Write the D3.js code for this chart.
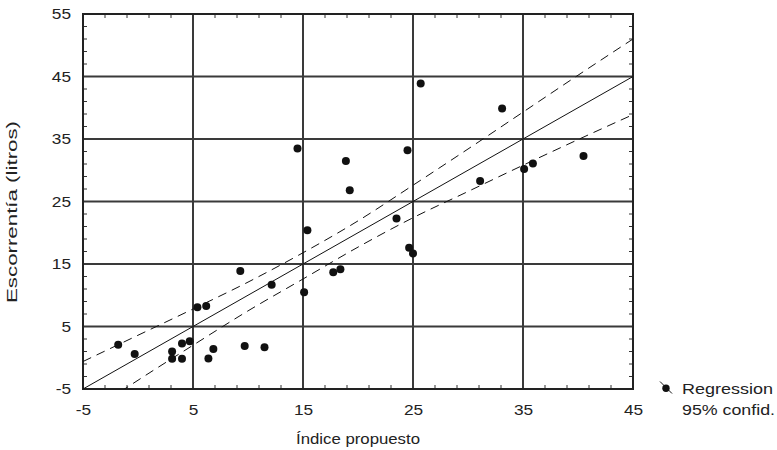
<!DOCTYPE html>
<html><head><meta charset="utf-8">
<script src="https://cdn.jsdelivr.net/npm/d3@7"></script>
<style>body{margin:0;background:#fff;} svg{display:block;font-family:"Liberation Sans",Arial,sans-serif;}</style>
</head><body>
<script>
// Observed points
const xVals = [-1.8, -0.3, 3.1, 3.1, 4.0, 4.0, 4.7, 5.4, 6.2, 6.4, 6.85, 9.3, 9.7, 11.5, 12.15, 14.5, 15.1, 15.4, 17.75, 18.4, 18.9, 19.25, 23.5, 24.5, 24.65, 25.0, 25.7, 31.1, 33.1, 35.1, 35.9, 40.5];
const yVals = [2.1, 0.6, 1.0, -0.15, 2.3, -0.15, 2.65, 8.1, 8.3, -0.1, 1.4, 13.9, 1.9, 1.7, 11.7, 33.5, 10.5, 20.4, 13.7, 14.15, 31.5, 26.8, 22.3, 33.2, 17.6, 16.7, 43.9, 28.3, 39.9, 30.2, 31.1, 32.3];
// Regression line
const regX = [-5, 45];
const regY = [-5, 45];
// 95% confidence bands
const bandX = [-5, 0, 5, 10, 15, 20, 25, 30, 35, 40, 45];
const upperY = [-0.6, 3.6, 7.8, 12.1, 16.8, 21.9, 27.6, 33.4, 39.3, 45.2, 51.0];
const lowerY = [-9.4, -3.6, 2.0, 7.5, 12.6, 17.7, 22.4, 26.6, 30.8, 34.9, 38.9];
const xTicks = [-5, 5, 15, 25, 35, 45];
const yTicks = [-5, 5, 15, 25, 35, 45, 55];
const legendLabels = ["Regression", "95% confid."];

const W = 777, H = 450;
const m = {left: 83, right: 144, top: 14, bottom: 61};
const FONT = "Liberation Sans, Arial, sans-serif";
const FS = 15;
const STRETCH = 1.15;
const svg = d3.select("body").append("svg").attr("width", W).attr("height", H);
const x = d3.scaleLinear().domain([-5, 45]).range([m.left, W - m.right]);
const y = d3.scaleLinear().domain([-5, 55]).range([H - m.bottom, m.top]);
const x0 = x.range()[0], x1 = x.range()[1], y0 = y.range()[0], y1 = y.range()[1];

function widen(sel, len) {
  sel.each(function() {
    const L = len != null ? len : this.getComputedTextLength() * STRETCH;
    d3.select(this).attr("textLength", L).attr("lengthAdjust", "spacingAndGlyphs");
  });
}

svg.append("defs").append("clipPath").attr("id", "clip")
  .append("rect").attr("x", x0).attr("y", y1).attr("width", x1 - x0).attr("height", y0 - y1);

// minor ticks (inside, every 2 units)
const minorX = d3.range(-5, 45.01, 2);
const minorY = d3.range(-5, 55.01, 2);
const g = svg.append("g");
g.selectAll(".mxb").data(minorX).join("line")
  .attr("x1", d => x(d)).attr("x2", d => x(d)).attr("y1", y0).attr("y2", y0 - 4)
  .attr("stroke", "#333").attr("stroke-width", 1);
g.selectAll(".mxt").data(minorX).join("line")
  .attr("x1", d => x(d)).attr("x2", d => x(d)).attr("y1", y1).attr("y2", y1 + 4)
  .attr("stroke", "#333").attr("stroke-width", 1);
g.selectAll(".myl").data(minorY).join("line")
  .attr("y1", d => y(d)).attr("y2", d => y(d)).attr("x1", x0).attr("x2", x0 + 4)
  .attr("stroke", "#333").attr("stroke-width", 1);
g.selectAll(".myr").data(minorY).join("line")
  .attr("y1", d => y(d)).attr("y2", d => y(d)).attr("x1", x1).attr("x2", x1 - 4)
  .attr("stroke", "#333").attr("stroke-width", 1);

// major grid
g.selectAll(".gx").data(xTicks).join("line")
  .attr("x1", d => x(d)).attr("x2", d => x(d)).attr("y1", y0).attr("y2", y1)
  .attr("stroke", "#3a3a3a").attr("stroke-width", 2);
g.selectAll(".gy").data(yTicks).join("line")
  .attr("y1", d => y(d)).attr("y2", d => y(d)).attr("x1", x0).attr("x2", x1)
  .attr("stroke", "#3a3a3a").attr("stroke-width", 2);

// frame
svg.append("rect").attr("x", x0).attr("y", y1).attr("width", x1 - x0).attr("height", y0 - y1)
  .attr("fill", "none").attr("stroke", "#222").attr("stroke-width", 2);

// tick labels via d3 axes
const fmt = d => String(d);
const xAxis = d3.axisBottom(x).tickValues(xTicks).tickFormat(fmt).tickSize(0).tickPadding(15);
svg.append("g").attr("transform", `translate(0,${y0})`).call(xAxis)
  .call(a => a.select(".domain").remove())
  .selectAll("text").attr("font-size", FS).attr("fill", "#222").attr("font-family", FONT).call(widen);
const yAxis = d3.axisLeft(y).tickValues(yTicks).tickFormat(fmt).tickSize(0).tickPadding(12);
svg.append("g").attr("transform", `translate(${x0},0)`).call(yAxis)
  .call(a => a.select(".domain").remove())
  .selectAll("text").attr("font-size", FS).attr("fill", "#222").attr("font-family", FONT).call(widen);

// lines
const plot = svg.append("g").attr("clip-path", "url(#clip)");
const regLine = d3.line().x(d => x(d[0])).y(d => y(d[1]));
plot.append("path").attr("d", regLine(regX.map((v, i) => [v, regY[i]])))
  .attr("fill", "none").attr("stroke", "#111").attr("stroke-width", 1);
const bandLine = d3.line().x(d => x(d[0])).y(d => y(d[1])).curve(d3.curveMonotoneX);
[upperY, lowerY].forEach(arr => {
  plot.append("path").attr("d", bandLine(bandX.map((v, i) => [v, arr[i]])))
    .attr("fill", "none").attr("stroke", "#111").attr("stroke-width", 1)
    .attr("stroke-dasharray", "9,6");
});

// points
svg.append("g").selectAll("circle").data(xVals.map((v, i) => [v, yVals[i]])).join("circle")
  .attr("cx", d => x(d[0])).attr("cy", d => y(d[1])).attr("r", 4).attr("fill", "#111");

// axis titles
svg.append("text").attr("x", (x0 + x1) / 2).attr("y", 444).attr("text-anchor", "middle")
  .attr("font-size", FS).attr("fill", "#222").attr("font-family", FONT)
  .text("Índice propuesto").call(widen, 124);
svg.append("text").attr("transform", `translate(17,212) rotate(-90)`)
  .attr("text-anchor", "middle").attr("font-size", 14).attr("fill", "#222").attr("font-family", FONT)
  .text("Escorrentía (litros)").call(widen, 182);

// legend
const lg = svg.append("g");
lg.append("line").attr("x1", 660).attr("y1", 381.5).attr("x2", 672).attr("y2", 393.5)
  .attr("stroke", "#111").attr("stroke-width", 1);
lg.append("circle").attr("cx", 666).attr("cy", 388.3).attr("r", 3.7).attr("fill", "#111");
const legLens = [91, 93];
lg.selectAll("text").data(legendLabels).join("text")
  .attr("x", 682).attr("y", (d, i) => 394.3 + i * 20.5).attr("font-size", FS).attr("fill", "#222")
  .attr("font-family", FONT).text(d => d)
  .each(function(d, i) { d3.select(this).call(widen, legLens[i]); });
</script>
</body></html>
